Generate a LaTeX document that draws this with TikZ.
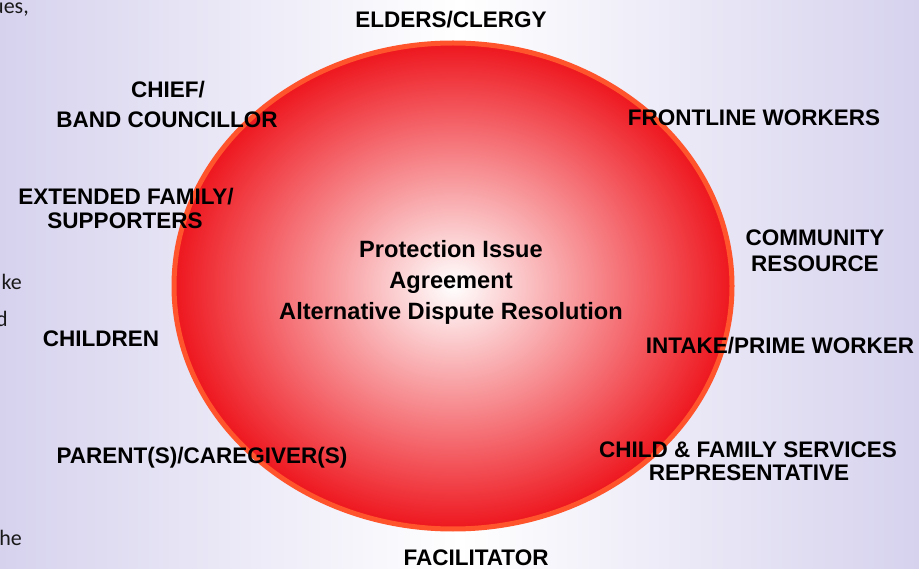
\documentclass[tikz,border=0pt]{standalone}
\usepackage{fontspec}
\setmainfont{Liberation Sans}
\newfontfamily\sidefont{Carlito}
\definecolor{bglav}{RGB}{214,210,238}
\definecolor{ballred}{RGB}{238,22,30}
\definecolor{rimorange}{RGB}{255,84,44}
\begin{document}
\begin{tikzpicture}[x=1pt,y=-1pt,
  lbl/.style={font=\fontsize{22.5}{26}\selectfont\bfseries, text=black, inner sep=0pt, anchor=base},
  ctr/.style={font=\fontsize{23.6}{28}\selectfont\bfseries, text=black, inner sep=0pt, anchor=base},
  side/.style={font=\sidefont\fontsize{22}{26}\selectfont, text=black!90, inner sep=0pt, anchor=base east}]
\useasboundingbox (0,0) rectangle (919,569);
\begin{scope}
\clip (0,0) rectangle (919,569);
\fill[left color=bglav, right color=bglav, middle color=white] (0,0) rectangle (919,569);
% cut-off text at the left edge
\node[side] (s1) at (29,14) {ues,};
\node[side] (s2) at (22,290) {ke};
\node[side] (s3) at (8,327) {d};
\node[side] (s4) at (22,545) {he};
\end{scope}
% ball
\shade[inner color=white, outer color=ballred] (453,286) ellipse [x radius=279, y radius=243];
\draw[rimorange, line width=5pt] (453,286) ellipse [x radius=279, y radius=243];
% centre text
\node[ctr] (c1) at (451,258) {Protection Issue};
\node[ctr] (c2) at (451,289) {Agreement};
\node[ctr] (c3) at (451,320) {Alternative Dispute Resolution};
% labels
\node[lbl] (elders) at (451,28) {ELDERS/CLERGY};
\node[lbl] (chief1) at (168,98) {CHIEF/};
\node[lbl] (chief2) at (167,128) {BAND COUNCILLOR};
\node[lbl] (front) at (754,126) {FRONTLINE WORKERS};
\node[lbl] (ext1) at (126,205) {EXTENDED FAMILY/};
\node[lbl] (ext2) at (125,229) {SUPPORTERS};
\node[lbl] (comm1) at (815,246) {COMMUNITY};
\node[lbl] (comm2) at (815,272) {RESOURCE};
\node[lbl] (child) at (101,347) {CHILDREN};
\node[lbl] (intake) at (780,354) {INTAKE/PRIME WORKER};
\node[lbl] (parent) at (202,463) {PARENT(S)/CAREGIVER(S)};
\node[lbl] (cfs1) at (748,457) {CHILD \& FAMILY SERVICES};
\node[lbl] (cfs2) at (749,480) {REPRESENTATIVE};
\node[lbl] (facil) at (476,565) {FACILITATOR};
\end{tikzpicture}
\end{document}
